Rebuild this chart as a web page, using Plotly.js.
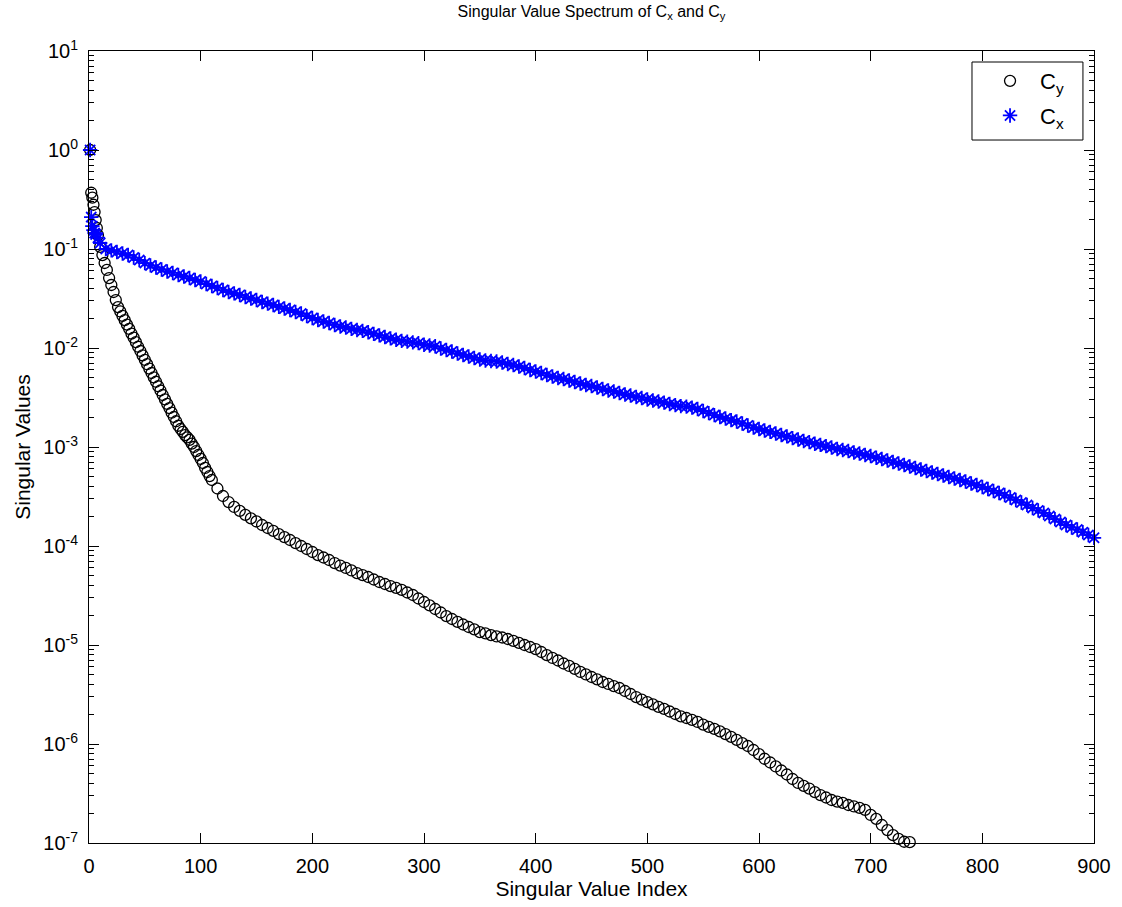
<!DOCTYPE html>
<html>
<head>
<meta charset="utf-8">
<script src="https://cdn.plot.ly/plotly-3.0.1.min.js"></script>
<style>html,body{margin:0;padding:0;background:#fff;}#chart{width:1122px;height:907px;}</style>
</head>
<body>
<div id="chart"></div>
<script>
// ---- Data ----
const cyIndex = [1,2,3,4,5,6,7,8,10,12,14,16,18,20,22,24,26,28,30,32,34,36,38,40,42,44,46,48,50,52,54,56,58,60,62,64,66,68,70,72,74,76,78,80,82,84,86,88,90,92,94,96,98,100,102,104,106,108,110,115,120,125,130,135,140,145,150,155,160,165,170,175,180,185,190,195,200,205,210,215,220,225,230,235,240,245,250,255,260,265,270,275,280,285,290,295,300,305,310,315,320,325,330,335,340,345,350,355,360,365,370,375,380,385,390,395,400,405,410,415,420,425,430,435,440,445,450,455,460,465,470,475,480,485,490,495,500,505,510,515,520,525,530,535,540,545,550,555,560,565,570,575,580,585,590,595,600,605,610,615,620,625,630,635,640,645,650,655,660,665,670,675,680,685,690,695,700,705,710,715,720,725,730,735];
const cyValues = [1.0,0.37,0.33,0.28,0.236,0.196,0.163,0.138,0.105,0.0869,0.0722,0.0614,0.0509,0.0433,0.0368,0.0305,0.0259,0.0234,0.0211,0.0191,0.0172,0.0156,0.0140,0.0127,0.01145,0.0103,0.00933,0.00842,0.0076,0.00686,0.0062,0.00559,0.00505,0.00456,0.00411,0.00372,0.00335,0.00303,0.00273,0.00247,0.00222,0.00201,0.00182,0.00164,0.00152,0.00142,0.00132,0.00125,0.00118,0.00108,0.001,0.00091,0.00083,0.000757,0.000689,0.000614,0.000559,0.000509,0.000464,0.000381,0.00032,0.000278,0.000248,0.000226,0.000206,0.00019,0.000177,0.000163,0.000152,0.000142,0.000132,0.000123,0.000115,0.000107,0.0001,9.33e-5,8.7e-5,8.1e-5,7.65e-5,7.22e-5,6.73e-5,6.35e-5,6.0e-5,5.66e-5,5.33e-5,5.09e-5,4.86e-5,4.59e-5,4.33e-5,4.13e-5,3.94e-5,3.77e-5,3.6e-5,3.39e-5,3.2e-5,2.95e-5,2.72e-5,2.51e-5,2.31e-5,2.13e-5,1.96e-5,1.83e-5,1.71e-5,1.61e-5,1.52e-5,1.44e-5,1.35e-5,1.31e-5,1.26e-5,1.22e-5,1.19e-5,1.15e-5,1.1e-5,1.05e-5,1.0e-5,9.55e-6,9.1e-6,8.5e-6,7.9e-6,7.4e-6,6.97e-6,6.5e-6,6.14e-6,5.73e-6,5.34e-6,5.04e-6,4.75e-6,4.49e-6,4.23e-6,4.04e-6,3.85e-6,3.68e-6,3.43e-6,3.2e-6,2.98e-6,2.81e-6,2.65e-6,2.51e-6,2.37e-6,2.26e-6,2.13e-6,2.01e-6,1.9e-6,1.83e-6,1.75e-6,1.67e-6,1.57e-6,1.49e-6,1.42e-6,1.34e-6,1.26e-6,1.18e-6,1.1e-6,1.02e-6,9.55e-7,8.7e-7,7.9e-7,7.1e-7,6.5e-7,5.93e-7,5.4e-7,4.92e-7,4.43e-7,4.04e-7,3.77e-7,3.55e-7,3.27e-7,3.05e-7,2.88e-7,2.72e-7,2.62e-7,2.54e-7,2.42e-7,2.34e-7,2.26e-7,2.16e-7,1.92e-7,1.75e-7,1.52e-7,1.35e-7,1.2e-7,1.1e-7,1.03e-7,1.02e-7];

const cxIndex = [1,2,3,4,5,6,8,10,15,20,25,30,35,40,45,50,55,60,65,70,75,80,85,90,95,100,105,110,115,120,125,130,135,140,145,150,155,160,165,170,175,180,185,190,195,200,205,210,215,220,225,230,235,240,245,250,255,260,265,270,275,280,285,290,295,300,305,310,315,320,325,330,335,340,345,350,355,360,365,370,375,380,385,390,395,400,405,410,415,420,425,430,435,440,445,450,455,460,465,470,475,480,485,490,495,500,505,510,515,520,525,530,535,540,545,550,555,560,565,570,575,580,585,590,595,600,605,610,615,620,625,630,635,640,645,650,655,660,665,670,675,680,685,690,695,700,705,710,715,720,725,730,735,740,745,750,755,760,765,770,775,780,785,790,795,800,805,810,815,820,825,830,835,840,845,850,855,860,865,870,875,880,885,890,895,900];
const cxValues = [1.0,0.21,0.17,0.155,0.145,0.14,0.13,0.115,0.1,0.0968,0.0934,0.09,0.087,0.082,0.0774,0.072,0.0683,0.065,0.0621,0.0593,0.0573,0.0546,0.0527,0.0509,0.0486,0.047,0.0443,0.0423,0.0404,0.0385,0.0368,0.0356,0.0343,0.0327,0.0316,0.0305,0.0292,0.0281,0.0272,0.026,0.0251,0.0242,0.0231,0.0223,0.021,0.0201,0.0192,0.0185,0.0179,0.0171,0.0165,0.0161,0.0156,0.0152,0.0149,0.0144,0.0139,0.0134,0.0129,0.0125,0.0121,0.0118,0.0116,0.0114,0.0112,0.0108,0.0106,0.0104,0.0099,0.00955,0.00923,0.0088,0.0085,0.0082,0.00793,0.00766,0.00748,0.0074,0.00731,0.00714,0.00689,0.00673,0.0065,0.00628,0.006,0.00579,0.00559,0.00533,0.00515,0.00498,0.00486,0.0047,0.00454,0.00438,0.00423,0.00413,0.00399,0.00385,0.00372,0.00364,0.00351,0.00339,0.00331,0.0032,0.00313,0.00302,0.00295,0.00288,0.00281,0.00272,0.00265,0.00259,0.00256,0.0025,0.00242,0.00231,0.0022,0.0021,0.00201,0.00194,0.00187,0.00181,0.00173,0.00165,0.00157,0.00152,0.00147,0.00142,0.00137,0.00132,0.00128,0.00123,0.00119,0.00115,0.00112,0.00108,0.00105,0.00102,0.00099,0.000955,0.000933,0.000912,0.00088,0.00086,0.00083,0.00081,0.00078,0.000757,0.000731,0.000705,0.000681,0.000658,0.000635,0.000614,0.000593,0.000573,0.000553,0.000534,0.000515,0.000498,0.000481,0.000464,0.000448,0.000428,0.000413,0.000394,0.000377,0.00036,0.000343,0.000327,0.000309,0.000292,0.000275,0.00026,0.000242,0.000229,0.000216,0.000201,0.000187,0.000175,0.000163,0.000154,0.000147,0.000138,0.000129,0.000121];

const xTickVals = [0,100,200,300,400,500,600,700,800,900];
const yExponents = [-7,-6,-5,-4,-3,-2,-1,0,1];

// ---- Axis helpers (tick positions, not data) ----
const yTickVals = yExponents.map(e => Math.pow(10, e));
const yTickText = yExponents.map(e => '10<sup>' + e + '</sup>');
const yMinor = [];
for (let e = -7; e < 1; e++) for (let m = 2; m <= 9; m++) yMinor.push(m * Math.pow(10, e));

const FONT = 'Arial, "Liberation Sans", Helvetica, sans-serif';

const traces = [
  {
    x: cyIndex, y: cyValues, name: 'C<sub>y</sub>', type: 'scatter', mode: 'markers',
    cliponaxis: false, legendgroup: 'g1',
    marker: {symbol: 'circle-open', size: 11, color: '#000000', line: {width: 1.3, color: '#000000'}}
  },
  {
    x: cxIndex, y: cxValues, name: 'C<sub>x</sub>', type: 'scatter', mode: 'markers',
    cliponaxis: false, legendgroup: 'g2',
    marker: {symbol: 'asterisk-open', size: 12, color: '#0000ff', line: {width: 1.8, color: '#0000ff'}}
  }
];

const layout = {
  width: 1122, height: 907,
  margin: {l: 89, r: 28, t: 51, b: 64},
  paper_bgcolor: '#ffffff', plot_bgcolor: '#ffffff',
  font: {family: FONT, color: '#000000', size: 20},
  showlegend: true,
  title: {
    text: 'Singular Value Spectrum of C<sub>x</sub> and C<sub>y</sub>',
    font: {family: FONT, size: 16, color: '#000000'},
    x: 0.5, xref: 'paper', xanchor: 'center', y: 0.994, yanchor: 'top'
  },
  xaxis: {
    range: [0, 900], tickmode: 'array', tickvals: xTickVals,
    ticks: 'inside', ticklen: 10, tickwidth: 1, tickcolor: '#000000',
    showline: true, linecolor: '#000000', linewidth: 1, mirror: 'ticks',
    showgrid: false, zeroline: false,
    tickfont: {family: FONT, size: 20, color: '#000000'},
    ticklabelstandoff: 5,
    title: {text: 'Singular Value Index', font: {family: FONT, size: 21, color: '#000000'}, standoff: 2}
  },
  yaxis: {
    type: 'log', range: [-7, 1],
    tickmode: 'array', tickvals: yTickVals, ticktext: yTickText,
    ticks: 'inside', ticklen: 10, tickwidth: 1, tickcolor: '#000000',
    minor: {tickmode: 'array', tickvals: yMinor, ticks: 'inside', ticklen: 5, tickwidth: 1, tickcolor: '#000000', showgrid: false},
    showline: true, linecolor: '#000000', linewidth: 1, mirror: 'ticks',
    showgrid: false, zeroline: false,
    tickfont: {family: FONT, size: 20, color: '#000000'},
    ticklabelstandoff: 6,
    title: {text: 'Singular Values', font: {family: FONT, size: 21, color: '#000000'}, standoff: 6}
  },
  legend: {
    x: 0.8866, xanchor: 'left', y: 0.9886, yanchor: 'top',
    bgcolor: 'rgba(0,0,0,0)', borderwidth: 0,
    font: {family: FONT, size: 22, color: '#000000'},
    itemwidth: 50, traceorder: 'grouped', tracegroupgap: 3
  },
  shapes: [
    {type: 'rect', xref: 'paper', yref: 'paper', x0: 0.8786, x1: 0.989, y0: 0.8876, y1: 0.9861,
     line: {color: '#000000', width: 1}, fillcolor: '#ffffff', layer: 'above'}
  ]
};

Plotly.newPlot('chart', traces, layout, {displayModeBar: false, staticPlot: true});
</script>
</body>
</html>
